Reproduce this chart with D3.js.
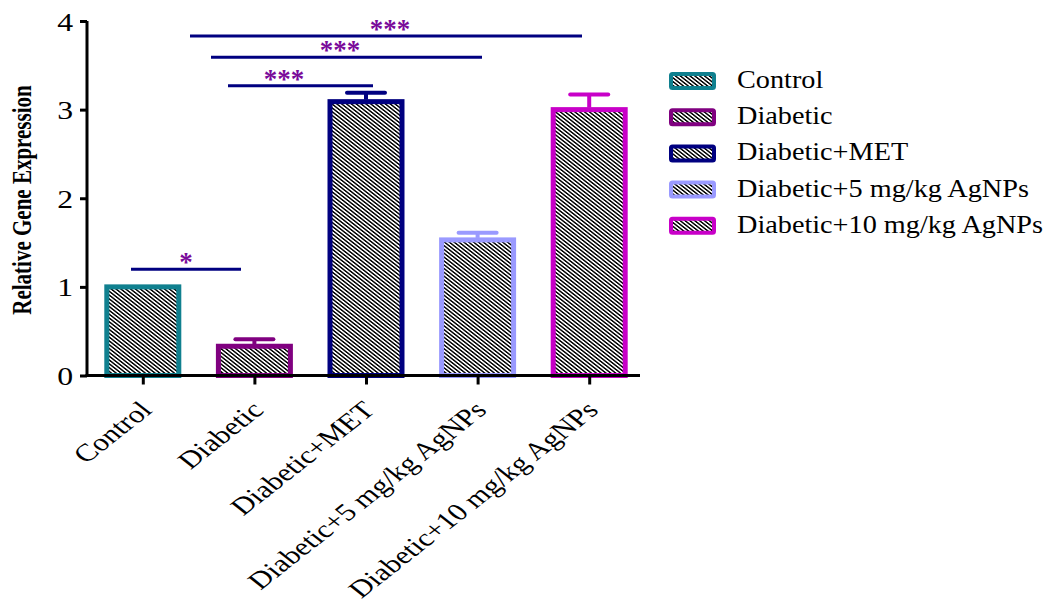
<!DOCTYPE html>
<html lang="en">
  <head>
    <meta charset="utf-8" />
    <script src="https://d3js.org/d3.v7.min.js"></script>
    <style type="text/css">
      body {
        margin: 0;
        background: white;
      }
      svg text {
        font-family: "Liberation Serif", "Times New Roman", serif;
      }
    </style>
  </head>

  <body>
    <svg id="chart" width="1051" height="603"></svg>

    <script>
      // data
      let groups = [
        "Control",
        "Diabetic",
        "Diabetic+MET",
        "Diabetic+5 mg/kg AgNPs",
        "Diabetic+10 mg/kg AgNPs",
      ];
      let means = [1.0, 0.33, 3.09, 1.53, 3.0];
      let errors = [0.0, 0.08, 0.1, 0.08, 0.17];
      let colors = ["#10808f", "#800080", "#000080", "#9a9aff", "#c800c8"];
      let yTicks = [0, 1, 2, 3, 4];

      // significance brackets
      let sigLevel = [1.2, 3.27, 3.59, 3.83];
      let sigLabel = ["*", "***", "***", "***"];

      let svg = d3.select("#chart");

      let left = 87;
      let right = 645;
      let y0 = 375.5;
      let y4 = 21;
      let stretch = 1.27; // figure is wider than tall

      let x = d3.scalePoint(d3.range(groups.length), [left, right]).padding(0.5);
      let y = d3.scaleLinear([0, 4], [y0, y4]);
      let barW = 72;

      // hatch pattern
      let hs = 2.7;
      let defs = svg.append("defs");
      let pat = defs
        .append("pattern")
        .attr("id", "hatch")
        .attr("patternUnits", "userSpaceOnUse")
        .attr("width", hs)
        .attr("height", hs)
        .attr("patternTransform", "scale(" + stretch + ",1) rotate(-45)");
      pat.append("rect").attr("width", hs).attr("height", hs).attr("fill", "white");
      pat
        .append("rect")
        .attr("x", 0)
        .attr("y", 0)
        .attr("width", 1.3)
        .attr("height", hs)
        .attr("fill", "black");

      // bars
      let bars = svg.append("g");
      bars
        .selectAll("rect")
        .data(groups)
        .enter()
        .append("rect")
        .attr("x", (d, i) => x(i) - barW / 2)
        .attr("y", (d, i) => y(means[i]))
        .attr("width", barW)
        .attr("height", (d, i) => y0 - y(means[i]))
        .attr("fill", "url(#hatch)")
        .attr("stroke", (d, i) => colors[i])
        .attr("stroke-width", 5);

      // error bars
      let eb = svg.append("g");
      groups.forEach(function (g, i) {
        if (errors[i] <= 0) return;
        eb.append("line")
          .attr("x1", x(i))
          .attr("x2", x(i))
          .attr("y1", y(means[i]) - 2)
          .attr("y2", y(means[i] + errors[i]))
          .attr("stroke", colors[i])
          .attr("stroke-width", 4);
        eb.append("line")
          .attr("x1", x(i) - 19)
          .attr("x2", x(i) + 19)
          .attr("y1", y(means[i] + errors[i]))
          .attr("y2", y(means[i] + errors[i]))
          .attr("stroke", colors[i])
          .attr("stroke-width", 4)
          .attr("stroke-linecap", "round");
      });

      // axes
      let yAxis = d3
        .axisLeft(y)
        .tickValues(yTicks)
        .tickFormat(d3.format("d"))
        .tickSize(7)
        .tickSizeOuter(0);
      let gy = svg
        .append("g")
        .attr("transform", "translate(" + left + ",0)")
        .call(yAxis);
      gy.select(".domain").attr("stroke-width", 3).attr("d", "M0," + (y0 + 1.5) + "V" + y4);
      gy.selectAll(".tick line").attr("stroke-width", 3);
      gy.selectAll(".tick text")
        .attr("font-size", 25)
        .attr("fill", "black")
        .attr("x", 0)
        .attr("dy", "0.36em")
        .attr("transform", "translate(-14,0) scale(" + stretch + ",1)");

      let xAxis = d3
        .axisBottom(x)
        .tickFormat((d) => groups[d])
        .tickSize(9)
        .tickSizeOuter(0);
      let gx = svg
        .append("g")
        .attr("transform", "translate(0," + y0 + ")")
        .call(xAxis);
      gx.select(".domain").attr("stroke-width", 3).attr("d", "M" + (left - 1.5) + ",0H640");
      gx.selectAll(".tick line").attr("stroke-width", 3);
      gx.selectAll(".tick text")
        .attr("font-size", 24.5)
        .attr("fill", "black")
        .attr("text-anchor", "end")
        .attr("x", 0)
        .attr("y", 0)
        .attr("dy", 0)
        .attr("transform", "translate(10,36) scale(" + stretch + ",1) rotate(-45)");

      // y label
      svg
        .append("text")
        .attr("transform", "translate(22,200) scale(" + stretch + ",1) rotate(-90)")
        .attr("text-anchor", "middle")
        .attr("dy", "0.33em")
        .attr("font-size", 21)
        .attr("font-weight", "bold")
        .text("Relative Gene Expression");

      // significance brackets
      let sig = svg.append("g");
      let sigX1 = [131, 228, 211, 190];
      let sigX2 = [241, 373, 482, 582];
      let sigTextX = [186, 284, 340, 390];
      sigLevel.forEach(function (lv, k) {
        sig.append("line")
          .attr("x1", sigX1[k])
          .attr("x2", sigX2[k])
          .attr("y1", y(lv))
          .attr("y2", y(lv))
          .attr("stroke", "#000080")
          .attr("stroke-width", 3);
        sig.append("text")
          .attr("x", sigTextX[k])
          .attr("y", y(lv) + 2)
          .attr("text-anchor", "middle")
          .attr("font-family", "DejaVu Sans")
          .attr("font-size", 27)
          .attr("font-weight", "bold")
          .attr("fill", "#7a0a9a")
          .text(sigLabel[k]);
      });

      // legend
      let legend = svg.append("g").attr("transform", "translate(671,81)");
      groups.forEach(function (g, i) {
        let row = legend.append("g").attr("transform", "translate(0," + i * 36.2 + ")");
        row.append("rect")
          .attr("x", 0)
          .attr("y", -7)
          .attr("width", 43)
          .attr("height", 14)
          .attr("rx", 1.5)
          .attr("fill", "url(#hatch)")
          .attr("stroke", colors[i])
          .attr("stroke-width", 4);
        row.append("text")
          .attr("transform", "translate(66,7) scale(1.13,1)")
          .attr("font-size", 25)
          .attr("fill", "black")
          .text(g);
      });
    </script>
  </body>
</html>
